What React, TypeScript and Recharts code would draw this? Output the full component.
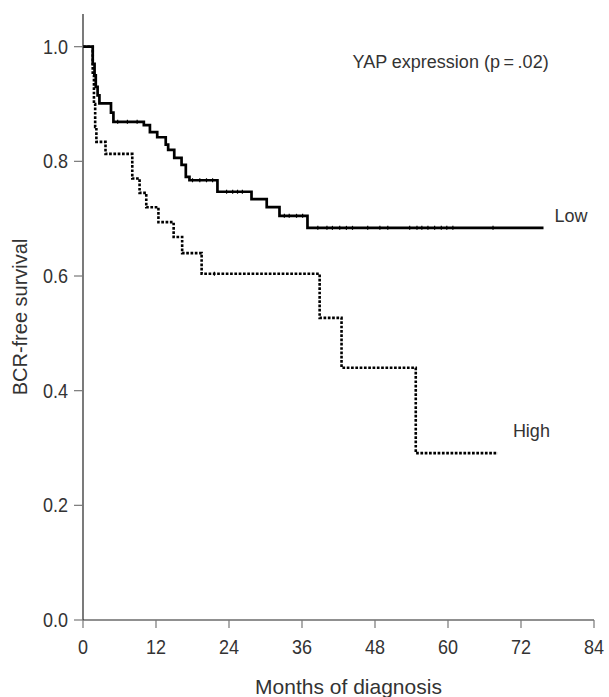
import React from 'react';
import {
  ComposedChart,
  Line,
  Scatter,
  XAxis,
  YAxis,
  ReferenceDot,
  Label
} from 'recharts';

// Kaplan-Meier steps (months, BCR-free survival)
const lowMonths = [0, 1.6, 1.9, 2.1, 2.4, 2.7, 4.6, 5.0, 10.0, 11.0, 12.2, 13.6, 14.0, 15.0, 16.2, 16.9, 17.5, 22.1, 27.7, 30.2, 32.3, 36.9, 75.7];
const lowSurv = [1.0, 0.97, 0.95, 0.93, 0.915, 0.901, 0.885, 0.869, 0.863, 0.851, 0.842, 0.829, 0.82, 0.806, 0.794, 0.773, 0.767, 0.747, 0.734, 0.72, 0.705, 0.684, 0.684];

const highMonths = [0, 1.6, 1.8, 2.0, 2.2, 3.7, 8.1, 9.3, 10.4, 12.4, 14.9, 16.3, 19.5, 38.9, 42.5, 54.7, 68.2];
const highSurv = [1.0, 0.95, 0.9, 0.86, 0.834, 0.813, 0.77, 0.745, 0.72, 0.694, 0.668, 0.64, 0.604, 0.527, 0.44, 0.291, 0.291];

// censored cases (small tick marks on the curves)
const lowCensorMonths = [5.7, 7.3, 8.9, 18.0, 19.2, 20.3, 21.3, 23.6, 24.6, 25.4, 26.2, 33.1, 33.9, 35.1, 36.1, 38.6, 40.1, 41.0, 42.2, 43.3, 44.3, 46.8, 48.8, 50.1, 53.7, 54.9, 55.7, 56.7, 57.8, 58.9, 59.8, 60.8, 67.4];
const highCensorMonths = [21.6];

const xTicks = [0, 12, 24, 36, 48, 60, 72, 84];
const yTicks = [0, 0.2, 0.4, 0.6, 0.8, 1.0];
const yMax = 1.057;

const toPoints = (months: number[], surv: number[]) =>
  months.map((m, i) => ({ m, s: surv[i] }));

// survival value of a step curve at a given month
const stepValue = (months: number[], surv: number[], t: number) => {
  let v = surv[0];
  for (let i = 0; i < months.length; i++) {
    if (months[i] <= t) v = surv[i];
  }
  return v;
};

const lowData = toPoints(lowMonths, lowSurv);
const highData = toPoints(highMonths, highSurv);
const lowCensor = lowCensorMonths.map(m => ({ m, s: stepValue(lowMonths, lowSurv, m) }));
const highCensor = highCensorMonths.map(m => ({ m, s: stepValue(highMonths, highSurv, m) }));

const font = '"Liberation Sans", Arial, Helvetica, sans-serif';
const tickFont = 20;

const CensorTick = (props: any) => {
  const { cx, cy } = props;
  return <line x1={cx} x2={cx} y1={cy - 2} y2={cy + 2} stroke="#000" strokeWidth={1.2} />;
};

// slightly condensed tick labels like the original figure
const XTick = (props: any) => {
  const { x, y, payload } = props;
  return (
    <text
      transform={`translate(${x},${y + tickFont * 0.71}) scale(0.9,1)`}
      textAnchor="middle"
      fill="#333"
      fontSize={tickFont}
      fontFamily={font}
    >
      {payload.value}
    </text>
  );
};

const YTick = (props: any) => {
  const { x, y, payload } = props;
  return (
    <text
      transform={`translate(${x},${y + tickFont * 0.355}) scale(0.9,1)`}
      textAnchor="end"
      fill="#333"
      fontSize={tickFont}
      fontFamily={font}
    >
      {Number(payload.value).toFixed(1)}
    </text>
  );
};

export default function App() {
  return (
    <div style={{ position: 'absolute', left: 0, top: 0, background: '#fff' }}>
      <ComposedChart
        width={609}
        height={697}
        margin={{ top: 14, right: 15, bottom: 0, left: 10 }}
        style={{ fontFamily: font }}
      >
        <XAxis
          type="number"
          dataKey="m"
          domain={[0, 84]}
          ticks={xTicks}
          allowDataOverflow
          height={77}
          tickSize={8}
          tickMargin={12}
          axisLine={{ stroke: '#222', strokeWidth: 1.2 }}
          tickLine={{ stroke: '#777', strokeWidth: 1.2 }}
          tick={<XTick />}
        >
          <Label
            value="Months of diagnosis"
            position="insideBottom"
            offset={3}
            dx={10}
            style={{ fill: '#333', fontSize: 21 }}
          />
        </XAxis>
        <YAxis
          type="number"
          dataKey="s"
          domain={[0, yMax]}
          ticks={yTicks}
          allowDataOverflow
          width={73}
          tickSize={9}
          tickMargin={6}
          axisLine={{ stroke: '#222', strokeWidth: 1.2 }}
          tickLine={{ stroke: '#777', strokeWidth: 1.2 }}
          tick={<YTick />}
        >
          <Label
            value="BCR-free survival"
            angle={-90}
            position="insideLeft"
            offset={10}
            style={{ fill: '#333', fontSize: 20, textAnchor: 'middle' }}
          />
        </YAxis>

        <Line
          data={highData}
          dataKey="s"
          type="stepAfter"
          stroke="#000"
          strokeWidth={2.6}
          strokeDasharray="2.7 1.6"
          dot={false}
          activeDot={false}
          isAnimationActive={false}
        />
        <Line
          data={lowData}
          dataKey="s"
          type="stepAfter"
          stroke="#000"
          strokeWidth={2.7}
          dot={false}
          activeDot={false}
          isAnimationActive={false}
        />
        <Scatter data={lowCensor} dataKey="s" shape={<CensorTick />} isAnimationActive={false} />
        <Scatter data={highCensor} dataKey="s" shape={<CensorTick />} isAnimationActive={false} />

        <ReferenceDot
          x={44.3}
          y={0.974}
          r={0}
          fill="none"
          stroke="none"
          label={{ value: 'YAP expression (p\u2009=\u2009.02)', position: 'right', offset: 0, fill: '#333', fontSize: 18 }}
        />
        <ReferenceDot
          x={75.7}
          y={0.706}
          r={0}
          fill="none"
          stroke="none"
          label={{ value: 'Low', position: 'right', offset: 11, fill: '#333', fontSize: 18 }}
        />
        <ReferenceDot
          x={68.2}
          y={0.331}
          r={0}
          fill="none"
          stroke="none"
          label={{ value: 'High', position: 'right', offset: 15, fill: '#333', fontSize: 18 }}
        />
      </ComposedChart>
    </div>
  );
}
